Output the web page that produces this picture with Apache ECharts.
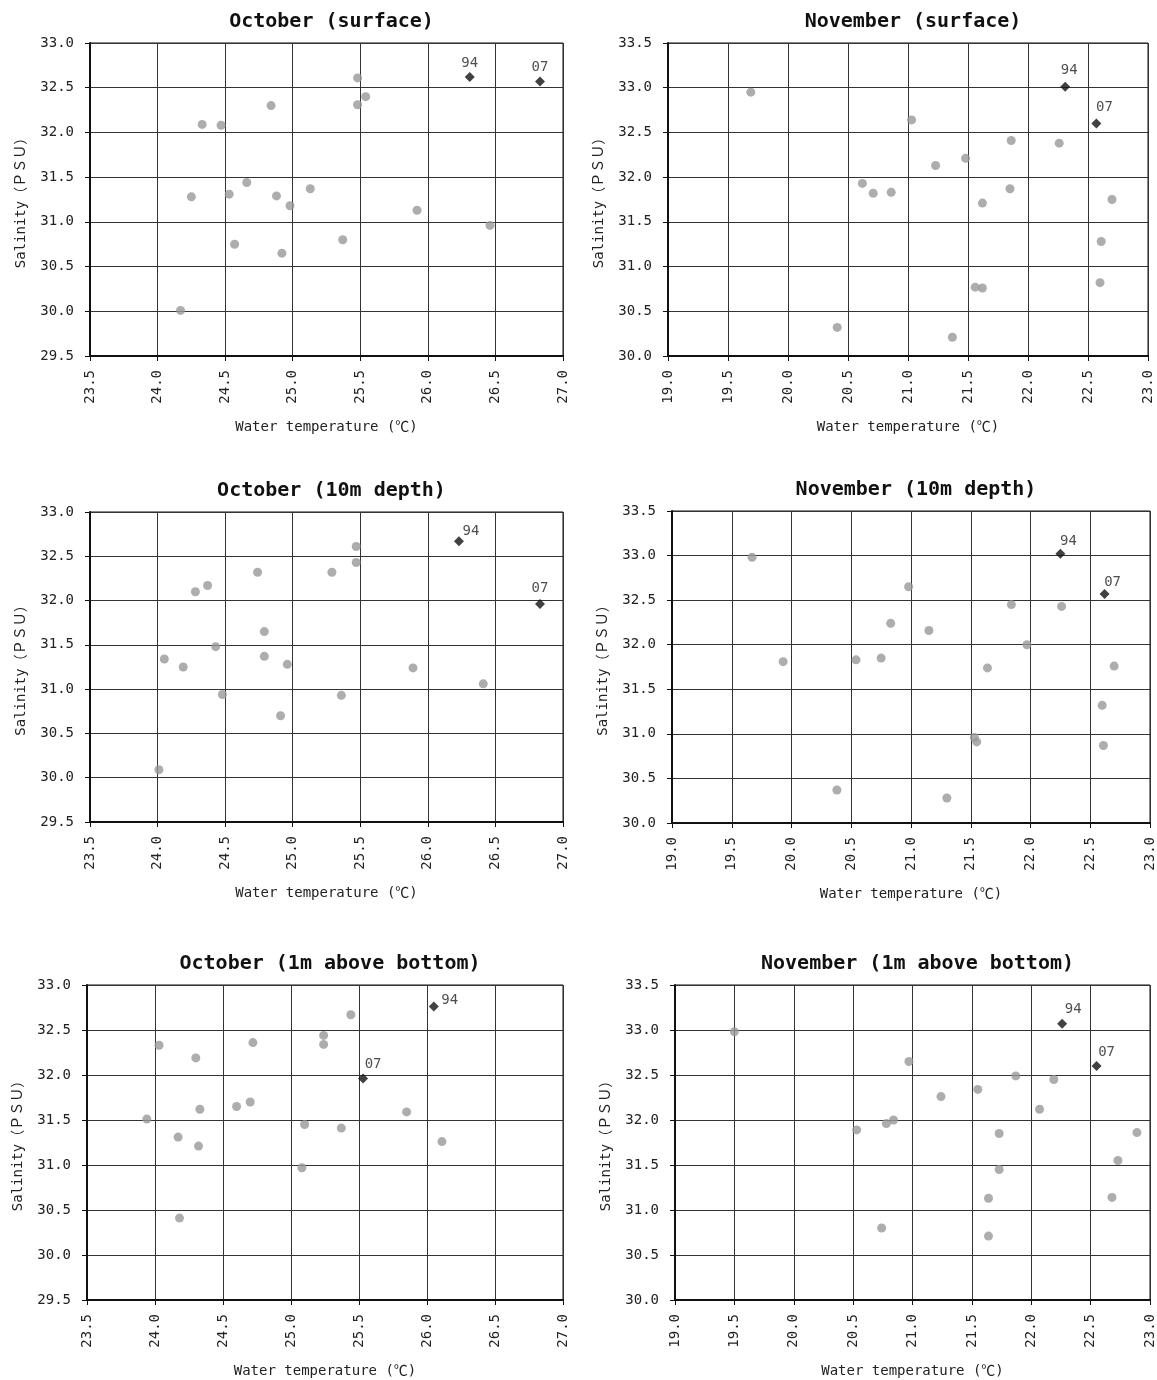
<!DOCTYPE html>
<html>
<head>
<meta charset="utf-8">
<title>Water temperature vs salinity</title>
<script src="https://cdn.jsdelivr.net/npm/echarts@6/dist/echarts.min.js"></script>
<style>
  html, body { margin: 0; padding: 0; background: #fff; }
  #main { width: 1157px; height: 1380px; }
</style>
</head>
<body>
<div id="main"></div>
<script>
// station points: [temperature, salinity]
const octSurface = [
  [25.48, 32.61], [25.54, 32.40], [25.48, 32.31], [24.84, 32.30], [24.33, 32.09],
  [24.47, 32.08], [24.66, 31.44], [24.25, 31.28], [24.53, 31.31], [24.88, 31.29],
  [24.98, 31.18], [25.13, 31.37], [25.92, 31.13], [26.46, 30.96], [25.37, 30.80],
  [24.57, 30.75], [24.92, 30.65], [24.17, 30.01]
]
const novSurface = [
  [19.69, 32.95], [21.03, 32.64], [21.86, 32.41], [22.26, 32.38], [21.48, 32.21],
  [21.23, 32.13], [20.62, 31.93], [20.71, 31.82], [20.86, 31.83], [21.85, 31.87],
  [21.62, 31.71], [22.70, 31.75], [22.61, 31.28], [22.60, 30.82], [21.56, 30.77],
  [21.62, 30.76], [20.41, 30.32], [21.37, 30.21]
]
const oct10m = [
  [25.47, 32.61], [25.47, 32.43], [25.29, 32.32], [24.74, 32.32], [24.37, 32.17],
  [24.28, 32.10], [24.79, 31.65], [24.43, 31.48], [24.79, 31.37], [24.05, 31.34],
  [24.19, 31.25], [24.96, 31.28], [25.89, 31.24], [26.41, 31.06], [24.48, 30.94],
  [25.36, 30.93], [24.91, 30.70], [24.01, 30.09]
]
const nov10m = [
  [19.67, 32.98], [20.98, 32.65], [21.84, 32.45], [22.26, 32.43], [20.83, 32.24],
  [21.15, 32.16], [21.97, 32.00], [19.93, 31.81], [20.54, 31.83], [20.75, 31.85],
  [21.64, 31.74], [22.70, 31.76], [22.60, 31.32], [22.61, 30.87], [21.53, 30.96],
  [21.55, 30.91], [20.38, 30.37], [21.30, 30.28]
]
const octBottom = [
  [25.44, 32.67], [25.24, 32.44], [25.24, 32.34], [24.72, 32.36], [24.03, 32.33],
  [24.30, 32.19], [24.70, 31.70], [24.60, 31.65], [24.33, 31.62], [23.94, 31.51],
  [25.85, 31.59], [25.10, 31.45], [25.37, 31.41], [24.17, 31.31], [24.32, 31.21],
  [26.11, 31.26], [25.08, 30.97], [24.18, 30.41]
]
const novBottom = [
  [19.50, 32.98], [20.97, 32.65], [21.87, 32.49], [22.19, 32.45], [21.55, 32.34],
  [21.24, 32.26], [22.07, 32.12], [20.84, 32.00], [20.78, 31.96], [20.53, 31.89],
  [21.73, 31.85], [22.89, 31.86], [22.73, 31.55], [21.73, 31.45], [21.64, 31.13],
  [22.68, 31.14], [20.74, 30.80], [21.64, 30.71]
]

// the 1994 and 2007 points for each panel
const year94 = [[26.31, 32.62], [22.31, 33.01], [26.23, 32.67], [22.25, 33.02], [26.05, 32.76], [22.26, 33.07]]
const year07 = [[26.83, 32.57], [22.57, 32.60], [26.83, 31.96], [22.62, 32.57], [25.53, 31.96], [22.55, 32.60]]
const yearNames = ['94', '07']

const titles = [
  'October (surface)', 'November (surface)',
  'October (10m depth)', 'November (10m depth)',
  'October (1m above bottom)', 'November (1m above bottom)'
]
const stations = [octSurface, novSurface, oct10m, nov10m, octBottom, novBottom]

// axis ranges
const octTemp = [23.5, 27.0]
const novTemp = [19.0, 23.0]
const octSal = [29.5, 33.0]
const novSal = [30.0, 33.5]

// layout of the six panels (px)
const boxes = [
  { left: 90, top: 43, width: 473, height: 313, off94: [0, 2], off07: [0, 2] },
  { left: 668, top: 43, width: 480, height: 313, off94: [4, 0], off07: [8, 0] },
  { left: 90, top: 512, width: 473, height: 310, off94: [12, 6], off07: [0, 0] },
  { left: 672, top: 511, width: 478, height: 312, off94: [8, 4], off07: [8, 4] },
  { left: 87, top: 985, width: 476, height: 315, off94: [16, 10], off07: [10, 2] },
  { left: 675, top: 985, width: 475, height: 315, off94: [11, 2], off07: [10, 2] }
]

const font = '"DejaVu Sans Mono", "Liberation Mono", monospace'
const cjk = '"DejaVu Sans Mono", "Noto Sans CJK JP", monospace'

let option = {
  backgroundColor: '#fff',
  animation: false,
  title: [],
  grid: [],
  xAxis: [],
  yAxis: [],
  series: []
}

boxes.forEach((b, i) => {
  let isOct = i % 2 === 0
  let xr = isOct ? octTemp : novTemp
  let yr = isOct ? octSal : novSal

  option.title.push({
    text: titles[i],
    left: b.left + b.width / 2,
    top: b.top - 36,
    textAlign: 'center',
    textStyle: { fontFamily: font, fontWeight: 'bold', fontSize: 20, color: '#111' }
  })
  option.grid.push({
    left: b.left, top: b.top, width: b.width, height: b.height,
    show: true, borderColor: '#111', borderWidth: 1, backgroundColor: '#fff'
  })
  option.xAxis.push({
    gridIndex: i,
    type: 'value',
    min: xr[0], max: xr[1], interval: 0.5,
    name: 'Water temperature (℃)',
    nameLocation: 'middle',
    nameGap: 64,
    nameTextStyle: { fontFamily: cjk, fontSize: 14, color: '#222' },
    axisLine: { show: true, onZero: false, lineStyle: { color: '#111', width: 2 } },
    axisTick: { show: true, inside: false, length: 5, lineStyle: { color: '#111' } },
    axisLabel: {
      rotate: 90, margin: 14, fontFamily: font, fontSize: 14, color: '#222',
      formatter: v => v.toFixed(1)
    },
    splitLine: { show: true, lineStyle: { color: '#333', width: 1 } }
  })
  option.yAxis.push({
    gridIndex: i,
    type: 'value',
    min: yr[0], max: yr[1], interval: 0.5,
    name: 'Salinity（ＰＳＵ）',
    nameLocation: 'middle',
    nameGap: 62,
    nameTextStyle: { fontFamily: cjk, fontSize: 14, color: '#222' },
    axisLine: { show: true, onZero: false, lineStyle: { color: '#111', width: 2 } },
    axisTick: { show: true, inside: false, length: 5, lineStyle: { color: '#111' } },
    axisLabel: { margin: 16, fontFamily: font, fontSize: 14, color: '#222', formatter: v => v.toFixed(1) },
    splitLine: { show: true, lineStyle: { color: '#333', width: 1 } }
  })

  option.series.push({
    type: 'scatter',
    xAxisIndex: i, yAxisIndex: i,
    symbol: 'circle', symbolSize: 9,
    itemStyle: { color: '#999' },
    data: stations[i]
  })
  ;[year94, year07].forEach((pts, k) => {
    option.series.push({
      type: 'scatter',
      xAxisIndex: i, yAxisIndex: i,
      symbol: 'diamond', symbolSize: 10,
      itemStyle: { color: '#111' },
      label: {
        show: true,
        position: 'top',
        distance: 4,
        offset: k === 0 ? b.off94 : b.off07,
        formatter: yearNames[k],
        fontFamily: font, fontSize: 14, color: '#222'
      },
      data: [pts[i]]
    })
  })
})

let myChart = echarts.init(document.getElementById('main'), null, { renderer: 'canvas' })
myChart.setOption(option)
</script>
</body>
</html>
